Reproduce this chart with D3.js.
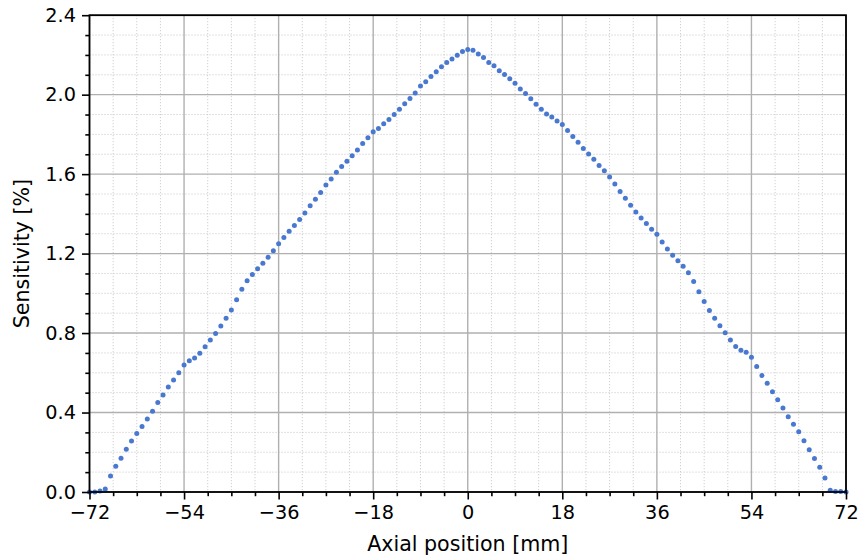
<!DOCTYPE html>
<html><head><meta charset="utf-8">
<script src="https://cdn.jsdelivr.net/npm/d3@7"></script>
<style>body{margin:0;background:#fff}svg{display:block}text{font-family:"DejaVu Sans",sans-serif}</style>
</head><body><svg id="c" width="862" height="556"></svg>
<script>
const positions = d3.range(-72, 73, 1);
const sensitivity = [
0.000,0.000,0.005,0.015,0.080,0.130,0.170,0.215,0.257,0.295,
0.330,0.367,0.407,0.450,0.488,0.528,0.564,0.600,0.639,0.661,
0.674,0.698,0.731,0.765,0.798,0.835,0.875,0.916,0.968,1.020,
1.063,1.095,1.124,1.152,1.182,1.214,1.249,1.281,1.312,1.342,
1.372,1.404,1.441,1.474,1.508,1.545,1.575,1.609,1.639,1.665,
1.692,1.722,1.754,1.783,1.813,1.830,1.853,1.875,1.900,1.926,
1.954,1.981,2.009,2.044,2.065,2.092,2.115,2.140,2.162,2.180,
2.199,2.217,2.227,2.224,2.205,2.187,2.162,2.145,2.120,2.102,
2.080,2.058,2.028,2.006,1.979,1.952,1.927,1.903,1.887,1.867,
1.850,1.820,1.790,1.760,1.729,1.701,1.675,1.644,1.617,1.585,
1.550,1.513,1.478,1.443,1.410,1.379,1.352,1.323,1.297,1.259,
1.223,1.192,1.164,1.136,1.103,1.060,1.008,0.959,0.914,0.874,
0.837,0.802,0.765,0.733,0.714,0.703,0.678,0.632,0.587,0.547,
0.505,0.464,0.423,0.379,0.341,0.303,0.258,0.213,0.168,0.124,
0.070,0.009,0.003,0.003,0.000];
const xTicks = [-72,-54,-36,-18,0,18,36,54,72];
const yTicks = [0.0,0.4,0.8,1.2,1.6,2.0,2.4];
const xMinor = d3.range(-72, 72.01, 4.5).filter(v => !xTicks.includes(v));
const yMinor = d3.range(0, 24.01, 1).map(v => v/10).filter(v => !yTicks.some(t => Math.abs(t-v) < 1e-9));

const L = 89.5, R = 846, T = 15.2, B = 492;
const svg = d3.select("#c");
const x = d3.scaleLinear().domain([-72, 72]).range([L, R]);
const y = d3.scaleLinear().domain([0, 2.4]).range([B, T]);
const fs = 19.3, lfs = 20.6;
const fmtX = d => (d < 0 ? "\u2212" + Math.abs(d) : "" + d);
const fmtY = d => d.toFixed(1);

// minor grid
const g = svg.append("g");
g.selectAll(".mgx").data(xMinor).join("line")
  .attr("x1", d => x(d)).attr("x2", d => x(d)).attr("y1", T).attr("y2", B)
  .attr("stroke", "#c4c4c4").attr("stroke-width", 1).attr("stroke-dasharray", "1,2");
g.selectAll(".mgy").data(yMinor).join("line")
  .attr("y1", d => y(d)).attr("y2", d => y(d)).attr("x1", L).attr("x2", R)
  .attr("stroke", "#c4c4c4").attr("stroke-width", 1).attr("stroke-dasharray", "1,2");
// major grid
g.selectAll(".Mgx").data(xTicks).join("line")
  .attr("x1", d => x(d)).attr("x2", d => x(d)).attr("y1", T).attr("y2", B)
  .attr("stroke", "#b0b0b0").attr("stroke-width", 1.4);
g.selectAll(".Mgy").data(yTicks).join("line")
  .attr("y1", d => y(d)).attr("y2", d => y(d)).attr("x1", L).attr("x2", R)
  .attr("stroke", "#b0b0b0").attr("stroke-width", 1.4);

// points
svg.append("g").selectAll("circle").data(positions.map((p, i) => [p, sensitivity[i]])).join("circle")
  .attr("cx", d => x(d[0])).attr("cy", d => y(d[1])).attr("r", 2.5).attr("fill", "#4878d0");

// axes
const xAxis = d3.axisBottom(x).tickValues(xTicks).tickFormat(fmtX).tickSize(7.5).tickPadding(6);
const yAxis = d3.axisLeft(y).tickValues(yTicks).tickFormat(fmtY).tickSize(7.5).tickPadding(6);
const xa = svg.append("g").attr("transform", `translate(0,${B})`).call(xAxis);
const ya = svg.append("g").attr("transform", `translate(${L},0)`).call(yAxis);
const xm = svg.append("g").attr("transform", `translate(0,${B})`).call(d3.axisBottom(x).tickValues(xMinor).tickFormat("").tickSize(4.2));
const ym = svg.append("g").attr("transform", `translate(${L},0)`).call(d3.axisLeft(y).tickValues(yMinor).tickFormat("").tickSize(4.2));
[xa, ya, xm, ym].forEach(a => {
  a.select(".domain").remove();
  a.selectAll("line").attr("stroke", "#000").attr("stroke-width", 1.6);
  a.selectAll("text").attr("font-size", fs).attr("fill", "#000").attr("font-family", "DejaVu Sans");
});
// spines
svg.append("rect").attr("x", L).attr("y", T).attr("width", R - L).attr("height", B - T)
  .attr("fill", "none").attr("stroke", "#000").attr("stroke-width", 1.8);

svg.append("text").attr("x", (L + R) / 2).attr("y", 551.3).attr("text-anchor", "middle")
  .attr("font-size", lfs).text("Axial position [mm]");
svg.append("text").attr("transform", `translate(28.5,${(T + B) / 2}) rotate(-90)`).attr("text-anchor", "middle")
  .attr("font-size", lfs).text("Sensitivity [%]");
</script></body></html>
